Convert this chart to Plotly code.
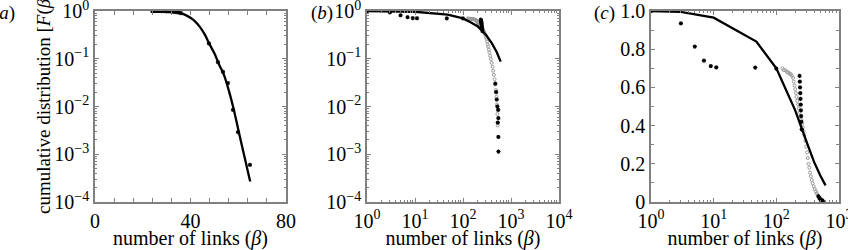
import plotly.graph_objects as go

# ---------------- data ----------------
# panel (a): linear x, log y
a_pts_x = [24, 25, 26, 27, 28, 29, 30, 31, 32, 33, 34, 35, 36, 47.7, 51.5, 53.6, 55.7, 57.8, 59.9, 64.9]
a_pts_y = [1.0, 1.0, 1.0, 1.0, 0.995, 0.99, 0.985, 0.98, 0.97, 0.96, 0.95, 0.93, 0.9,
           0.21, 0.085, 0.053, 0.031, 0.0085, 0.0029, 0.0006]
a_fit_x = [24, 28, 32, 35, 38, 40, 42, 44, 46, 48, 50, 52, 54, 56, 58, 60, 62, 64, 65]
a_fit_y = [1.0, 0.995, 0.97, 0.92, 0.82, 0.72, 0.6, 0.46, 0.32, 0.2, 0.13, 0.075, 0.046,
           0.022, 0.0092, 0.0033, 0.0012, 0.00044, 0.00027]

# panels (b) and (c): same data, log x
fit_x = [1, 3, 10, 48, 100, 150, 200, 300, 400, 500, 610]
fit_y = [1.0, 0.995, 0.965, 0.84, 0.70, 0.57, 0.48, 0.32, 0.21, 0.14, 0.087]

black_x = [1, 3, 5, 7, 9, 11, 46, 100,
           235, 237, 239, 241, 243, 245, 247, 249, 251, 254,
           470, 490, 505, 520, 540, 545, 530, 545, 548]
black_y = [1.0, 0.935, 0.814, 0.74, 0.712, 0.705, 0.704, 0.698,
           0.66, 0.63, 0.6, 0.57, 0.54, 0.51, 0.48, 0.45, 0.42, 0.38,
           0.03, 0.02, 0.014, 0.01, 0.0085, 0.0057, 0.0046, 0.0023, 0.00114]

grey_x = [125, 132, 140, 148, 155, 162, 170, 178, 185, 190, 195, 200, 205, 210, 215,
          222, 228, 235, 242, 250, 258, 265, 272, 280, 290, 300, 310, 318, 326, 335,
          345, 355, 368, 380, 395, 410, 425, 440, 455, 470, 485, 498, 510, 520, 530]
grey_y = [0.70, 0.69, 0.69, 0.68, 0.68, 0.67, 0.67, 0.66, 0.65, 0.63, 0.61, 0.59, 0.57,
          0.55, 0.53, 0.51, 0.49, 0.47, 0.45, 0.43, 0.41, 0.39, 0.37, 0.35, 0.32, 0.29,
          0.26, 0.23, 0.20, 0.18, 0.155, 0.135, 0.115, 0.098, 0.082, 0.068, 0.056, 0.046,
          0.037, 0.029, 0.022, 0.016, 0.011, 0.007, 0.004]

log_y_ticks = [1, 0.1, 0.01, 0.001, 0.0001]
log_y_text = ["10<sup>0</sup>", "10<sup>−1</sup>", "10<sup>−2</sup>", "10<sup>−3</sup>", "10<sup>−4</sup>"]
b_x_ticks = [1, 10, 100, 1000, 10000]
b_x_text = ["10<sup>0</sup>", "10<sup>1</sup>", "10<sup>2</sup>", "10<sup>3</sup>", "10<sup>4</sup>"]
c_x_ticks = [1, 10, 100, 1000]
c_x_text = ["10<sup>0</sup>", "10<sup>1</sup>", "10<sup>2</sup>", "10<sup>3</sup>"]
a_x_ticks = [0, 40, 80]
c_y_ticks = [0, 0.2, 0.4, 0.6, 0.8, 1.0]
c_y_text = ["0", "0.2", "0.4", "0.6", "0.8", "1.0"]

# ---------------- styling ----------------
FONT = "Liberation Serif"
GREY = "#808080"
W, H = 848, 250

def minor_log(lo, hi):
    vals = []
    for e in range(lo, hi):
        for m in range(2, 10):
            vals.append(m * 10 ** e)
    return vals

def axis_common(**kw):
    d = dict(showline=True, linecolor=GREY, linewidth=1.5, mirror="allticks",
             ticks="inside", ticklen=4, tickcolor=GREY, tickwidth=1, automargin=False,
             showgrid=False, zeroline=False, tickfont=dict(family=FONT, size=20, color="black"),
             tickmode="array", ticklabeloverflow="allow")
    d.update(kw)
    return d

ydom = [48 / H, 239 / H]
fig = go.Figure()

black_marker = dict(symbol="asterisk-open", size=3.5, color="black", line=dict(color="black", width=1.1))
grey_marker = dict(symbol="circle-open", size=3, color="#9a9a9a", line=dict(color="#9a9a9a", width=1))

# panel a
fig.add_trace(go.Scatter(x=a_fit_x, y=a_fit_y, mode="lines", line=dict(color="black", width=2.3),
                         xaxis="x", yaxis="y", cliponaxis=False, line_shape="spline"))
fig.add_trace(go.Scatter(x=a_pts_x, y=a_pts_y, mode="markers", marker=black_marker,
                         xaxis="x", yaxis="y", cliponaxis=False))
# panel b
fig.add_trace(go.Scatter(x=grey_x, y=grey_y, mode="markers", marker=grey_marker,
                         xaxis="x2", yaxis="y2", cliponaxis=False))
fig.add_trace(go.Scatter(x=black_x, y=black_y, mode="markers", marker=black_marker,
                         xaxis="x2", yaxis="y2", cliponaxis=False))
fig.add_trace(go.Scatter(x=fit_x, y=fit_y, mode="lines", line=dict(color="black", width=2.3),
                         xaxis="x2", yaxis="y2", cliponaxis=False))
# panel c
fig.add_trace(go.Scatter(x=grey_x, y=grey_y, mode="markers", marker=grey_marker,
                         xaxis="x3", yaxis="y3", cliponaxis=False))
fig.add_trace(go.Scatter(x=black_x, y=black_y, mode="markers", marker=black_marker,
                         xaxis="x3", yaxis="y3", cliponaxis=False))
fig.add_trace(go.Scatter(x=fit_x, y=fit_y, mode="lines", line=dict(color="black", width=2.3),
                         xaxis="x3", yaxis="y3", cliponaxis=False))

xtitle = dict(text="number of links (<i>β</i>)", font=dict(family=FONT, size=20, color="black"), standoff=6)

fig.update_layout(
    width=W, height=H, margin=dict(l=0, r=0, t=0, b=0, autoexpand=False),
    paper_bgcolor="white", plot_bgcolor="white", showlegend=False,
    xaxis=axis_common(domain=[95 / W, 286 / W], range=[0, 80], tickvals=a_x_ticks,
                      minor=dict(tickvals=[8, 16, 24, 32, 48, 56, 64, 72], ticks="inside", ticklen=4,
                                 tickcolor=GREY),
                      anchor="y", title=xtitle),
    yaxis=axis_common(domain=ydom, type="log", range=[-4, 0], tickvals=log_y_ticks, ticktext=log_y_text,
                      minor=dict(tickvals=minor_log(-4, 0), ticks="inside", ticklen=2, tickcolor=GREY),
                      anchor="x"),
    xaxis2=axis_common(domain=[367 / W, 559 / W], type="log", range=[0, 4], tickvals=b_x_ticks, ticktext=b_x_text,
                       minor=dict(tickvals=minor_log(0, 4), ticks="inside", ticklen=2, tickcolor=GREY),
                       anchor="y2", title=xtitle),
    yaxis2=axis_common(domain=ydom, type="log", range=[-4, 0], tickvals=log_y_ticks, ticktext=log_y_text,
                       minor=dict(tickvals=minor_log(-4, 0), ticks="inside", ticklen=2, tickcolor=GREY),
                       anchor="x2"),
    xaxis3=axis_common(domain=[651 / W, 839 / W], type="log", range=[0, 3], tickvals=c_x_ticks, ticktext=c_x_text,
                       minor=dict(tickvals=minor_log(0, 3), ticks="inside", ticklen=2, tickcolor=GREY),
                       anchor="y3", title=xtitle),
    yaxis3=axis_common(domain=ydom, range=[0, 1], tickvals=c_y_ticks, ticktext=c_y_text,
                       minor=dict(tickvals=[0.1, 0.3, 0.5, 0.7, 0.9], ticks="inside", ticklen=3, tickcolor=GREY),
                       anchor="x3"),
)

ann_font = dict(family=FONT, size=19, color="black")
fig.add_annotation(text="cumulative distribution [<i>F</i>(<i>β</i>)]", textangle=-90,
                   xref="paper", yref="paper", x=44 / W, y=(250 - 100) / H,
                   xanchor="center", yanchor="middle", showarrow=False,
                   font=dict(family=FONT, size=19, color="black"))
for txt, xr in [("(<i>a</i>)", 17), ("(<i>b</i>)", 335), ("(<i>c</i>)", 617)]:
    fig.add_annotation(text=txt, xref="paper", yref="paper", x=xr / W, y=(250 - 13) / H,
                       xanchor="right", yanchor="middle", showarrow=False, font=ann_font)

fig.write_html("out.html")
